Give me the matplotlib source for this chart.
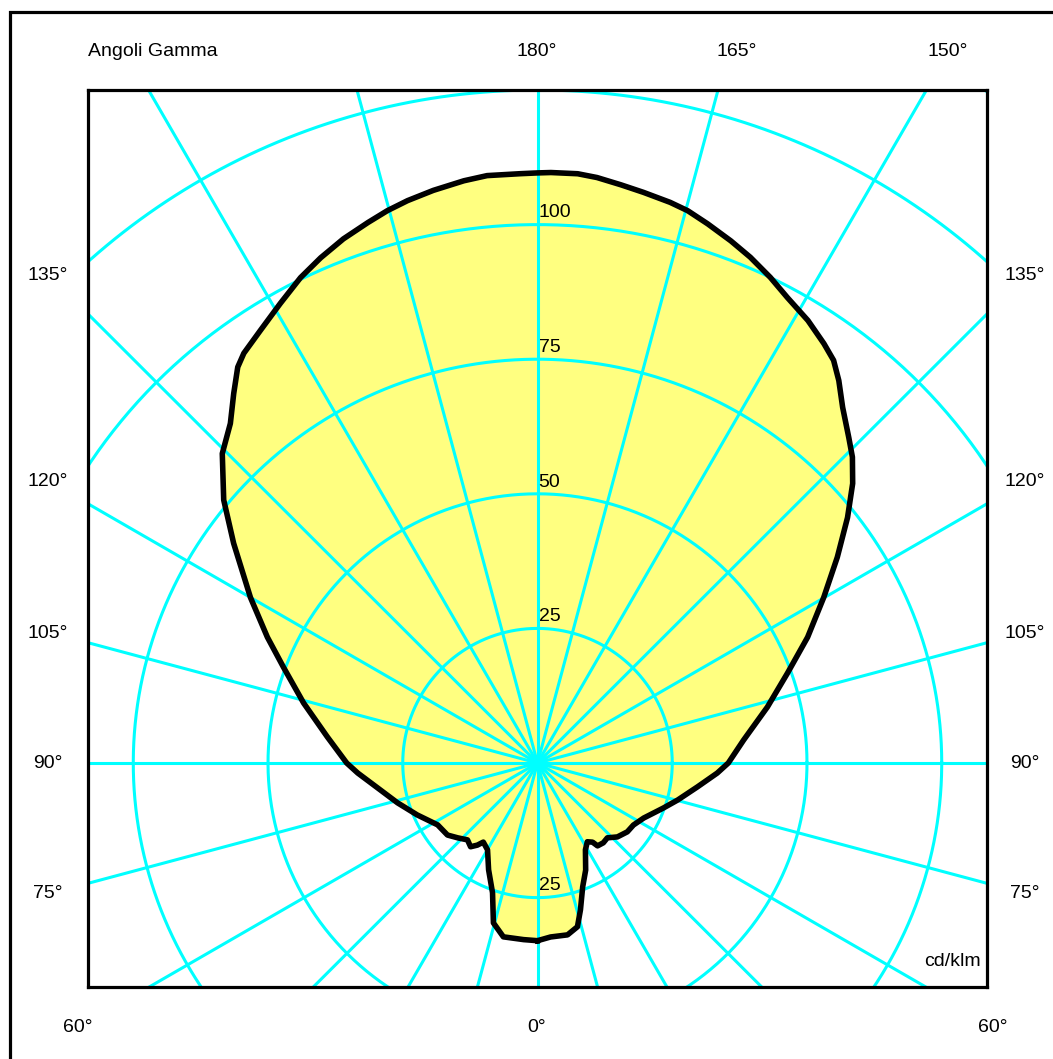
import numpy as np
import matplotlib.pyplot as plt
from matplotlib.patches import Rectangle

plt.rcParams['font.family'] = ['Liberation Sans', 'DejaVu Sans']

# curva fotometrica, angoli gamma (gradi) e intensita' (cd/klm)
gamma_dx = [0, 4.3, 9.9, 13.7, 16.3, 20.0, 24.2, 28.9, 32.3, 34.8, 35.9, 39.5, 43.0,
            47.2, 52.5, 57.1, 62.6, 70.3, 75.2, 81.5, 86.8, 90, 96.4, 103.7, 109.8,
            115.0, 120.1, 124.5, 128.4, 131.6, 134.2, 136.3, 139.4, 141.8, 143.7,
            145.7, 148.6, 151.8, 154.4, 157.2, 159.7, 162.5, 164.8, 166.7, 169.5,
            171.8, 174.2, 176.1, 178.7, 180]
int_dx = [33.0, 32.4, 32.4, 31.3, 28.4, 24.5, 21.8, 18.4, 17.3, 17.9, 19.0, 19.2, 19.0,
          20.2, 21.0, 21.2, 22.2, 24.8, 26.9, 30.0, 33.4, 35.4, 38.5, 43.9, 49.3,
          55.3, 61.4, 67.5, 73.4, 78.2, 81.5, 83.6, 87.0, 90.4, 92.8,
          94.3, 96.3, 98.1, 100.0, 101.9, 103.4, 105.0, 106.3, 107.0, 107.8,
          108.5, 109.3, 109.7, 109.7, 109.6]

gamma_sx = [0, 4.5, 11.1, 15.4, 19.1, 24.6, 29.9, 34.4, 36.2, 38.6, 42.3, 46.8, 51.3,
            58.2, 66.6, 74.1, 81.1, 86.8, 90, 97.1, 104.4, 110.7, 115.0, 120.0, 125.9,
            130.0, 134.5, 137.9, 140.6, 142.9, 144.4, 147.4, 150.8, 154.0, 156.8,
            159.7, 162.6, 164.8, 167.0, 169.7, 172.8, 175.1, 178.3, 180]
int_sx = [33.0, 32.9, 32.9, 30.8, 25.5, 21.8, 18.6, 17.8, 18.9, 19.9, 19.3, 20.3, 21.4,
          21.8, 24.3, 27.0, 30.0, 33.4, 35.4, 39.3, 44.8, 50.4, 55.3, 61.5, 69.6,
          76.0, 82.0, 85.0, 88.8, 92.2, 93.6, 95.4, 97.8, 100.3, 102.1,
          103.8, 105.2, 106.3, 107.2, 108.1, 109.0, 109.5, 109.5, 109.6]

cerchi = [25, 50, 75, 100, 125, 150]
raggi_ang = np.arange(0, 360, 15)

fig = plt.figure(figsize=(10.53, 10.59), dpi=100)
W, H = 1053, 1059
ax = fig.add_axes([88 / W, (H - 987) / H, 899 / W, 897 / H])
ax.set_xlim(-83.4, 83.4)
ax.set_ylim(-41.6, 125)
ax.set_xticks([])
ax.set_yticks([])
for s in ax.spines.values():
    s.set_linewidth(2.3)
    s.set_zorder(5)

# contorno: lato destro da 0 a 180, poi lato sinistro da 180 a 0
gd = np.radians(gamma_dx)
gs = np.radians(gamma_sx[::-1])
x = np.concatenate([np.array(int_dx) * np.sin(gd), -np.array(int_sx[::-1]) * np.sin(gs)])
y = np.concatenate([-np.array(int_dx) * np.cos(gd), -np.array(int_sx[::-1]) * np.cos(gs)])

ax.fill(x, y, color='#ffff80', zorder=1)

ciano = '#00ffff'
t = np.linspace(0, 2 * np.pi, 800)
for r in cerchi:
    ax.plot(r * np.cos(t), r * np.sin(t), color=ciano, lw=2.2, zorder=2)
for a in raggi_ang:
    ar = np.radians(a)
    ax.plot([0, 300 * np.sin(ar)], [0, -300 * np.cos(ar)], color=ciano, lw=2.2, zorder=2)

ax.plot(np.append(x, x[0]), np.append(y, y[0]), color='black', lw=4, zorder=3,
        solid_joinstyle='round')

# etichette dei cerchi
for r in [25, 50, 75, 100]:
    ax.text(0.2, r + 0.6, str(r), ha='left', va='bottom', fontsize=14, zorder=4)
ax.text(0.2, -25 + 0.6, '25', ha='left', va='bottom', fontsize=14, zorder=4)
ax.text(82.3, -38.5, 'cd/klm', ha='right', va='bottom', fontsize=14, zorder=4)

# testi esterni (pixel -> frazione della figura)
def testo(px, py, s, ha='center'):
    fig.text(px / W, 1 - py / H, s, ha=ha, va='center', fontsize=14)

testo(88, 51, 'Angoli Gamma', ha='left')
testo(537, 51, '180°')
testo(737, 51, '165°')
testo(948, 51, '150°')
for lab, py in [('135°', 275), ('120°', 481), ('105°', 633), ('90°', 763), ('75°', 893)]:
    testo(48, py, lab)
    testo(1025, py, lab)
testo(78, 1027, '60°')
testo(537, 1027, '0°')
testo(993, 1027, '60°')

fig.patches.append(Rectangle((10 / W, -0.1), 1.2, 1.1 - 12 / H, transform=fig.transFigure,
                             fill=False, lw=2.3, edgecolor='black'))

fig.savefig('out.png', dpi=100)
